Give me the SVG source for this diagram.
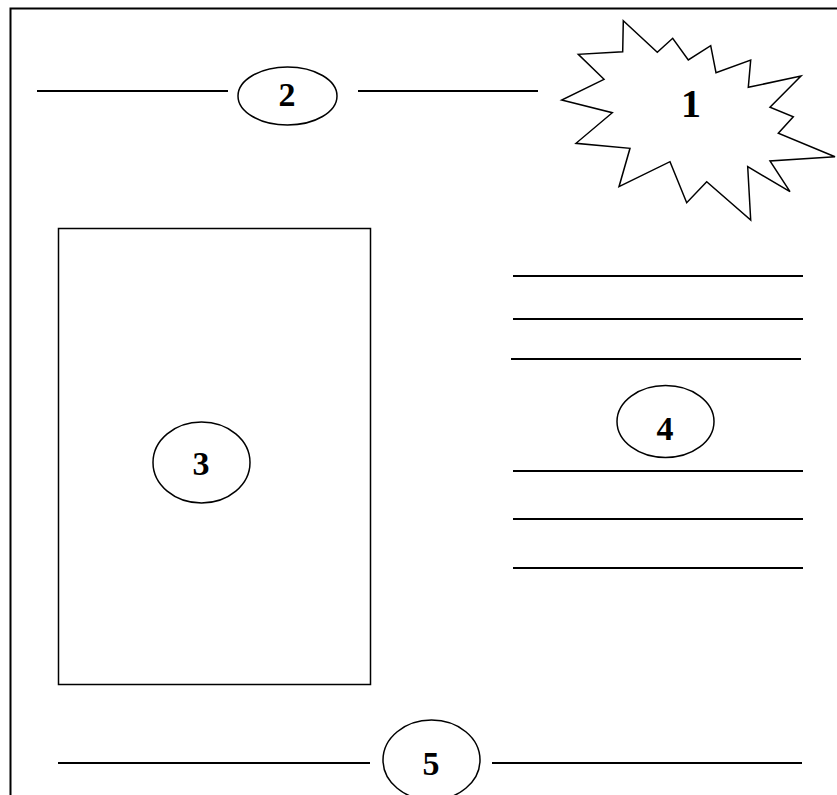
<svg xmlns="http://www.w3.org/2000/svg" width="837" height="795" viewBox="0 0 837 795">
<style>
.s{fill:#fff;stroke:#000;stroke-width:1.5}
.l{stroke:#000;stroke-width:2;fill:none}
.t{font-family:"Liberation Serif","DejaVu Serif",serif;font-weight:bold;font-size:34px;text-anchor:middle;fill:#000}
</style>
<rect width="837" height="795" fill="#fff"/>
<path class="l" d="M10.5 795 V8.5 H837"/>
<g id="connectors">
<line class="l" x1="37" y1="91" x2="228" y2="91"/>
<line class="l" x1="358" y1="91" x2="538" y2="91"/>
<line class="l" x1="513" y1="276" x2="803" y2="276"/>
<line class="l" x1="513" y1="319" x2="803" y2="319"/>
<line class="l" x1="511" y1="359" x2="801" y2="359"/>
<line class="l" x1="513" y1="471" x2="803" y2="471"/>
<line class="l" x1="513" y1="519" x2="803" y2="519"/>
<line class="l" x1="513" y1="568" x2="803" y2="568"/>
<line class="l" x1="58" y1="763" x2="370" y2="763"/>
<line class="l" x1="492" y1="763" x2="802" y2="763"/>
</g>
<g id="n1">
<polygon class="s" points="623.3,20.7 657.3,52.3 672.7,38.3 688.3,60 710.7,45.7 716,72.7 750.7,60 748.3,87.3 801,76 770,107.3 793.3,116.7 778.3,133.3 835,156.7 770,161 790,191.7 747.7,166.7 750.7,220 706.7,181.7 686.7,202.7 670,161.7 619,186.7 630,148.3 576,143.3 612.3,112.7 561.7,100 604,79.3 578.3,54.3 622.7,51.7"/>
<text class="t" x="691" y="117" style="font-size:40px">1</text>
</g>
<g id="n2">
<ellipse class="s" cx="287.5" cy="96" rx="49.5" ry="29"/>
<text class="t" x="287" y="106">2</text>
</g>
<g id="n3">
<rect class="s" x="58.5" y="228.5" width="312" height="456"/>
<ellipse class="s" cx="201.5" cy="462.5" rx="48.5" ry="40.5"/>
<text class="t" x="201" y="475">3</text>
</g>
<g id="n4">
<ellipse class="s" cx="665.5" cy="421.5" rx="48.5" ry="36"/>
<text class="t" x="665" y="440">4</text>
</g>
<g id="n5">
<ellipse class="s" cx="431.5" cy="760" rx="48.5" ry="40"/>
<text class="t" x="431" y="775">5</text>
</g>
</svg>
